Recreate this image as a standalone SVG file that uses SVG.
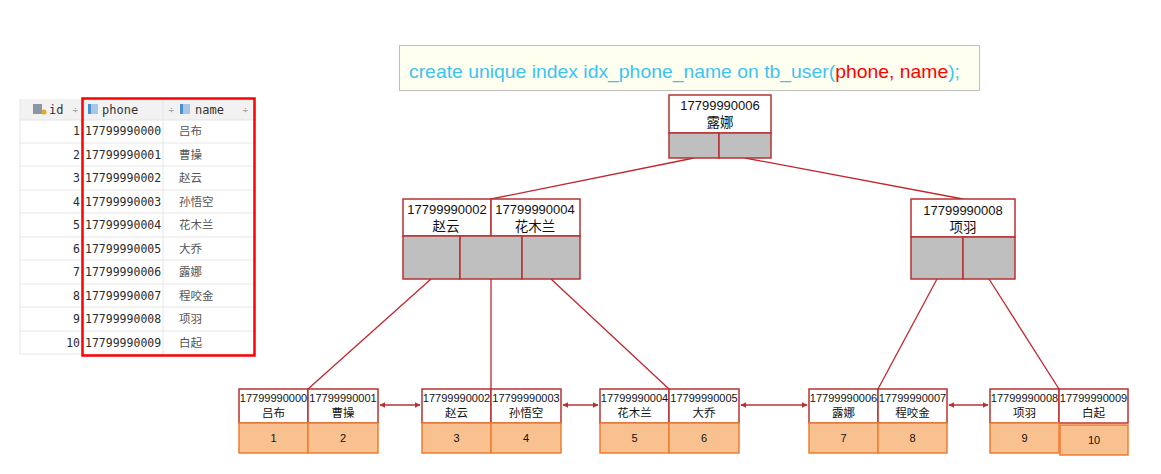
<svg xmlns="http://www.w3.org/2000/svg" width="1161" height="474" viewBox="0 0 1161 474">
<style>
.tbl{font-family:"DejaVu Sans Mono","Liberation Mono",monospace;font-size:11.5px;fill:#2b2b2b}
.cjk{font-family:"Noto Sans CJK SC","Noto Sans",sans-serif;font-size:11.5px;fill:#555}
.hdr{font-family:"DejaVu Sans Mono","Liberation Mono",monospace;font-size:12px;fill:#333}
.sort{font-family:"DejaVu Sans",sans-serif;font-size:8px;fill:#999}
.rowline{stroke:#e6e6e6;stroke-width:1}
.nbox{fill:#fff;stroke:#b83232;stroke-width:1.5}
.gray{fill:#bfbfbf;stroke:#b83232;stroke-width:1.5}
.org{fill:#f8c18f;stroke:#ed7d31;stroke-width:1.5}
.ntxt{font-family:"Liberation Sans","Noto Sans CJK SC",sans-serif;font-size:13px;fill:#111;text-anchor:middle}
.ltxt{font-family:"Liberation Sans","Noto Sans CJK SC",sans-serif;font-size:11px;fill:#111;text-anchor:middle}
.lcjk{font-family:"Noto Sans CJK SC",sans-serif;font-size:11.5px;fill:#111;text-anchor:middle}
.ncjk{font-family:"Noto Sans CJK SC",sans-serif;font-size:13.5px;fill:#111;text-anchor:middle}
.link{stroke:#c0272d;stroke-width:1.3;fill:none}
.arr{stroke:#b83232;stroke-width:1.5;fill:none;marker-start:url(#ah);marker-end:url(#ah)}
</style>
<defs>
<marker id="ah" viewBox="0 0 10 10" refX="9" refY="5" markerWidth="6" markerHeight="6" orient="auto-start-reverse" markerUnits="userSpaceOnUse">
<path d="M0,0 L10,5 L0,10 z" fill="#b83232"/>
</marker>
</defs>
<rect width="1161" height="474" fill="#fff"/>

<!-- table -->
<g id="table">
<rect x="20" y="99" width="236" height="21" fill="#f2f2f2"/>
<line x1="20" y1="120" x2="256" y2="120" class="rowline"/>
<line x1="20" y1="143" x2="256" y2="143" class="rowline"/>
<line x1="20" y1="166" x2="256" y2="166" class="rowline"/>
<line x1="20" y1="190" x2="256" y2="190" class="rowline"/>
<line x1="20" y1="213" x2="256" y2="213" class="rowline"/>
<line x1="20" y1="237" x2="256" y2="237" class="rowline"/>
<line x1="20" y1="260" x2="256" y2="260" class="rowline"/>
<line x1="20" y1="284" x2="256" y2="284" class="rowline"/>
<line x1="20" y1="307" x2="256" y2="307" class="rowline"/>
<line x1="20" y1="331" x2="256" y2="331" class="rowline"/>
<line x1="20" y1="354" x2="256" y2="354" class="rowline"/>
<line x1="20" y1="99" x2="20" y2="354" class="rowline"/>
<line x1="163" y1="99" x2="163" y2="354" class="rowline"/>
<!-- header icons -->
<rect x="33" y="104" width="9" height="10" fill="#8a96a6"/>
<circle cx="44" cy="112" r="2.5" fill="#e6a817"/>
<rect x="88" y="104" width="10" height="10" fill="#a9c6e6"/>
<rect x="88" y="104" width="3" height="10" fill="#4a90d9"/>
<rect x="180" y="104" width="10" height="10" fill="#a9c6e6"/>
<rect x="180" y="104" width="3" height="10" fill="#4a90d9"/>
<text x="49" y="114" class="hdr">id</text>
<text x="72" y="113" class="sort">÷</text>
<text x="102" y="114" class="hdr">phone</text>
<text x="168" y="113" class="sort">÷</text>
<text x="195" y="114" class="hdr">name</text>
<text x="242" y="113" class="sort">÷</text>
<g class="tbl" text-anchor="end">
<text x="80" y="135">1</text><text x="80" y="159">2</text><text x="80" y="182">3</text><text x="80" y="206">4</text><text x="80" y="229">5</text>
<text x="80" y="253">6</text><text x="80" y="276">7</text><text x="80" y="300">8</text><text x="80" y="323">9</text><text x="80" y="347">10</text>
</g>
<g class="tbl">
<text x="85" y="135">17799990000</text><text x="85" y="159">17799990001</text><text x="85" y="182">17799990002</text><text x="85" y="206">17799990003</text><text x="85" y="229">17799990004</text>
<text x="85" y="253">17799990005</text><text x="85" y="276">17799990006</text><text x="85" y="300">17799990007</text><text x="85" y="323">17799990008</text><text x="85" y="347">17799990009</text>
</g>
<g class="cjk">
<text x="179" y="135">吕布</text><text x="179" y="159">曹操</text><text x="179" y="182">赵云</text><text x="179" y="206">孙悟空</text><text x="179" y="229">花木兰</text>
<text x="179" y="253">大乔</text><text x="179" y="276">露娜</text><text x="179" y="300">程咬金</text><text x="179" y="323">项羽</text><text x="179" y="347">白起</text>
</g>
<rect x="82.5" y="98.5" width="172" height="257" fill="none" stroke="#ff0000" stroke-width="2.5"/>
</g>

<!-- SQL box -->
<g id="sql">
<rect x="399.5" y="45.5" width="580" height="45" fill="#fffff0" stroke="#bfbfbf" stroke-width="1"/>
<text x="409" y="78" font-family="Liberation Sans,sans-serif" font-size="19" textLength="551" lengthAdjust="spacingAndGlyphs" fill="#3cc4f0">create unique index idx_phone_name on tb_user(<tspan fill="#ff0000">phone, name</tspan>);</text>
</g>

<!-- connectors -->
<g id="connectors">
<line x1="694" y1="158" x2="491" y2="199" class="link"/>
<line x1="745" y1="158" x2="963" y2="199" class="link"/>
<line x1="431" y1="279" x2="308" y2="389" class="link"/>
<line x1="491" y1="279" x2="491" y2="389" class="link"/>
<line x1="551" y1="279" x2="669" y2="389" class="link"/>
<line x1="937" y1="279" x2="878" y2="389" class="link"/>
<line x1="989" y1="279" x2="1059" y2="389" class="link"/>
<line x1="380" y1="405" x2="420" y2="405" class="arr"/>
<line x1="563" y1="405" x2="598" y2="405" class="arr"/>
<line x1="741" y1="405" x2="807" y2="405" class="arr"/>
<line x1="949" y1="405" x2="988" y2="405" class="arr"/>
</g>

<!-- root -->
<g id="root">
<rect x="669" y="95" width="102" height="38" class="nbox"/>
<rect x="669" y="133" width="50" height="25" class="gray"/>
<rect x="719" y="133" width="52" height="25" class="gray"/>
<text x="720" y="110" class="ntxt">17799990006</text>
<text x="720" y="127" class="ncjk">露娜</text>
</g>

<!-- level 2 left -->
<g id="inner-left">
<rect x="403" y="199" width="88" height="37" class="nbox"/>
<rect x="491" y="199" width="89" height="37" class="nbox"/>
<rect x="403" y="236" width="57" height="43" class="gray"/>
<rect x="460" y="236" width="62" height="43" class="gray"/>
<rect x="522" y="236" width="58" height="43" class="gray"/>
<text x="447" y="214" class="ntxt">17799990002</text>
<text x="446" y="231" class="ncjk">赵云</text>
<text x="535" y="214" class="ntxt">17799990004</text>
<text x="535" y="231" class="ncjk">花木兰</text>
</g>

<!-- level 2 right -->
<g id="inner-right">
<rect x="911" y="199" width="104" height="38" class="nbox"/>
<rect x="911" y="237" width="52" height="42" class="gray"/>
<rect x="963" y="237" width="52" height="42" class="gray"/>
<text x="963" y="215" class="ntxt">17799990008</text>
<text x="963" y="232" class="ncjk">项羽</text>
</g>

<!-- leaves -->
<g id="leaf1">
<rect x="239" y="389" width="69" height="34" class="nbox"/>
<rect x="308" y="389" width="70" height="34" class="nbox"/>
<rect x="239" y="423" width="69" height="30" class="org"/>
<rect x="308" y="423" width="70" height="30" class="org"/>
<text x="273.5" y="402" class="ltxt">17799990000</text><text x="273.5" y="417" class="lcjk">吕布</text>
<text x="343" y="402" class="ltxt">17799990001</text><text x="343" y="417" class="lcjk">曹操</text>
<text x="273.5" y="442" class="ltxt">1</text><text x="343" y="442" class="ltxt">2</text>
</g>
<g id="leaf2">
<rect x="422" y="389" width="69" height="34" class="nbox"/>
<rect x="491" y="389" width="70" height="34" class="nbox"/>
<rect x="422" y="423" width="69" height="30" class="org"/>
<rect x="491" y="423" width="70" height="30" class="org"/>
<text x="456.5" y="402" class="ltxt">17799990002</text><text x="456.5" y="417" class="lcjk">赵云</text>
<text x="526" y="402" class="ltxt">17799990003</text><text x="526" y="417" class="lcjk">孙悟空</text>
<text x="456.5" y="442" class="ltxt">3</text><text x="526" y="442" class="ltxt">4</text>
</g>
<g id="leaf3">
<rect x="600" y="389" width="69" height="34" class="nbox"/>
<rect x="669" y="389" width="70" height="34" class="nbox"/>
<rect x="600" y="423" width="69" height="30" class="org"/>
<rect x="669" y="423" width="70" height="30" class="org"/>
<text x="634.5" y="402" class="ltxt">17799990004</text><text x="634.5" y="417" class="lcjk">花木兰</text>
<text x="704" y="402" class="ltxt">17799990005</text><text x="704" y="417" class="lcjk">大乔</text>
<text x="634.5" y="442" class="ltxt">5</text><text x="704" y="442" class="ltxt">6</text>
</g>
<g id="leaf4">
<rect x="809" y="389" width="69" height="34" class="nbox"/>
<rect x="878" y="389" width="69" height="34" class="nbox"/>
<rect x="809" y="423" width="69" height="30" class="org"/>
<rect x="878" y="423" width="69" height="30" class="org"/>
<text x="843.5" y="402" class="ltxt">17799990006</text><text x="843.5" y="417" class="lcjk">露娜</text>
<text x="912.5" y="402" class="ltxt">17799990007</text><text x="912.5" y="417" class="lcjk">程咬金</text>
<text x="843.5" y="442" class="ltxt">7</text><text x="912.5" y="442" class="ltxt">8</text>
</g>
<g id="leaf5">
<rect x="990" y="389" width="69" height="34" class="nbox"/>
<rect x="1059" y="389" width="69" height="34" class="nbox"/>
<rect x="990" y="423" width="69" height="30" class="org"/>
<rect x="1060" y="425" width="68" height="30" class="org"/>
<text x="1024.5" y="402" class="ltxt">17799990008</text><text x="1024.5" y="417" class="lcjk">项羽</text>
<text x="1093.5" y="402" class="ltxt">17799990009</text><text x="1093.5" y="417" class="lcjk">白起</text>
<text x="1024.5" y="442" class="ltxt">9</text><text x="1094" y="444" class="ltxt">10</text>
</g>
</svg>
